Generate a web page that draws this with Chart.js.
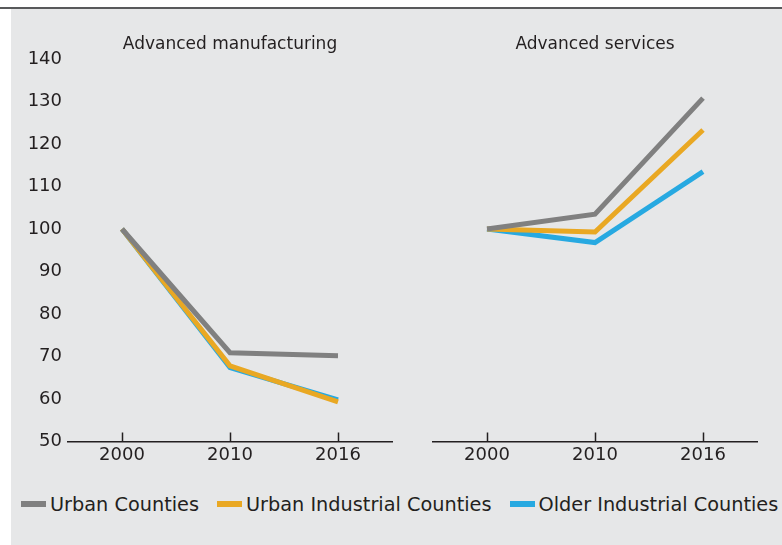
<!DOCTYPE html>
<html>
<head>
<meta charset="utf-8">
<script src="https://cdn.jsdelivr.net/npm/chart.js@4/dist/chart.umd.min.js"></script>
<style>
  html, body { margin: 0; padding: 0; background: #fff; }
  body {
    width: 782px; height: 545px; position: relative; overflow: hidden;
    font-family: "DejaVu Sans", sans-serif; color: #231f20;
  }
  #rule { position: absolute; left: 0; top: 7px; width: 782px; height: 2px; background: #58595b; }
  #panel { position: absolute; left: 11px; top: 9px; width: 771px; height: 536px; background: #e6e7e8; }
  .box { position: absolute; top: 0; height: 480px; }
  #leftBox { left: 0; width: 400px; }
  #rightBox { left: 400px; width: 382px; }
  #legend {
    position: absolute; left: 21px; top: 490px; height: 28px;
    display: flex; align-items: center; font-size: 19.3px; white-space: nowrap;
  }
  .item { display: flex; align-items: center; margin-right: 18px; }
  .swatch { width: 25px; height: 6px; margin-right: 4px; }
</style>
</head>
<body>
<div id="rule"></div>
<div id="panel"></div>
<div class="box" id="leftBox"><canvas id="manufacturing"></canvas></div>
<div class="box" id="rightBox"><canvas id="services"></canvas></div>
<div id="legend"></div>

<script>
const YEARS = ['2000', '2010', '2016'];
const SERIES_NAMES = ['Urban Counties', 'Urban Industrial Counties', 'Older Industrial Counties'];
const SERIES_COLORS = ['#808080', '#e9a823', '#27a9e1'];

// index, 2000 = 100
const MANUFACTURING_URBAN = [100, 70.9, 70.2];
const MANUFACTURING_URBAN_INDUSTRIAL = [100, 67.8, 59.3];
const MANUFACTURING_OLDER_INDUSTRIAL = [100, 67.4, 59.8];

const SERVICES_URBAN = [100, 103.5, 130.8];
const SERVICES_URBAN_INDUSTRIAL = [100, 99.3, 123.3];
const SERVICES_OLDER_INDUSTRIAL = [100, 96.8, 113.5];

const Y_MIN = 50;
const Y_MAX = 140;
const Y_STEP = 10;

const TEXT = '#231f20';

Chart.defaults.font.family = '"DejaVu Sans", sans-serif';
Chart.defaults.color = TEXT;

// short tick marks pointing up from the x axis line
const innerTicks = {
  id: 'innerTicks',
  afterDatasetsDraw(chart) {
    const x = chart.scales.x;
    const ctx = chart.ctx;
    ctx.save();
    ctx.strokeStyle = TEXT;
    ctx.lineWidth = 1.5;
    x.ticks.forEach((_, i) => {
      const px = Math.round(x.getPixelForTick(i)) + 0.5;
      ctx.beginPath();
      ctx.moveTo(px, x.top);
      ctx.lineTo(px, x.top - 9);
      ctx.stroke();
    });
    ctx.restore();
  },
};

function makeDatasets(series) {
  return series.map((data, i) => ({
    label: SERIES_NAMES[i],
    data,
    borderColor: SERIES_COLORS[i],
    backgroundColor: SERIES_COLORS[i],
    borderWidth: 5,
    pointRadius: 0,
    tension: 0,
    borderCapStyle: 'butt',
    borderJoinStyle: 'miter',
  }));
}

function renderPanel(canvasId, title, series, showYAxis, padding) {
  return new Chart(document.getElementById(canvasId), {
    type: 'line',
    data: { labels: YEARS, datasets: makeDatasets(series) },
    options: {
      responsive: true,
      maintainAspectRatio: false,
      animation: false,
      layout: { padding },
      plugins: {
        legend: { display: false },
        tooltip: { enabled: false },
        title: {
          display: true,
          text: title,
          fullSize: false,
          color: TEXT,
          font: { size: 17, weight: 'normal' },
          padding: { top: 34.8, bottom: 3.8 },
        },
      },
      scales: {
        x: {
          offset: true,
          grid: { display: false, drawTicks: false },
          border: { display: true, color: TEXT, width: 1.5 },
          ticks: { padding: 3, font: { size: 18 }, color: TEXT },
          afterFit: (scale) => { scale.height = 38.5; },
        },
        y: {
          display: showYAxis,
          min: Y_MIN,
          max: Y_MAX,
          grid: { display: false, drawTicks: false },
          border: { display: false },
          ticks: { stepSize: Y_STEP, padding: 6, font: { size: 18 }, color: TEXT },
          afterFit: (scale) => { scale.width = showYAxis ? 68 : 0; },
        },
      },
    },
    plugins: [innerTicks],
  });
}

renderPanel('manufacturing', 'Advanced manufacturing',
  [MANUFACTURING_URBAN, MANUFACTURING_URBAN_INDUSTRIAL, MANUFACTURING_OLDER_INDUSTRIAL],
  true, { left: 0, right: 8, top: 0, bottom: 0 });

renderPanel('services', 'Advanced services',
  [SERVICES_URBAN, SERVICES_URBAN_INDUSTRIAL, SERVICES_OLDER_INDUSTRIAL],
  false, { left: 33, right: 25, top: 0, bottom: 0 });

const legendEl = document.getElementById('legend');
SERIES_NAMES.forEach((name, i) => {
  const item = document.createElement('div');
  item.className = 'item';
  const swatch = document.createElement('span');
  swatch.className = 'swatch';
  swatch.style.background = SERIES_COLORS[i];
  const label = document.createElement('span');
  label.textContent = name;
  item.appendChild(swatch);
  item.appendChild(label);
  legendEl.appendChild(item);
});
</script>
</body>
</html>
